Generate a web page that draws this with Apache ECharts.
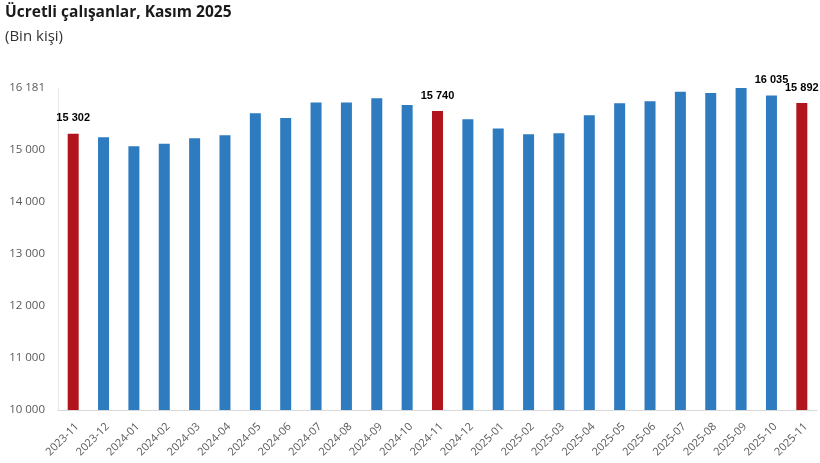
<!DOCTYPE html>
<html><head><meta charset="utf-8">
<script src="https://cdn.jsdelivr.net/npm/echarts@6/dist/echarts.min.js"></script>
<style>html,body{margin:0;padding:0;background:#fff}#c{width:820px;height:463px}</style>
</head><body><div id="c"></div>
<script>
const categories = ['2023-11','2023-12','2024-01','2024-02','2024-03','2024-04','2024-05','2024-06','2024-07','2024-08','2024-09','2024-10','2024-11','2024-12','2025-01','2025-02','2025-03','2025-04','2025-05','2025-06','2025-07','2025-08','2025-09','2025-10','2025-11'];
const values = [15302,15236,15061,15113,15216,15274,15695,15604,15903,15903,15986,15856,15740,15579,15404,15294,15313,15657,15889,15928,16109,16083,16181,16035,15892];
const highlighted = ['2023-11','2024-11','2025-11'];
const labelled = ['2023-11','2024-11','2025-10','2025-11'];
const yTicks = [10000,11000,12000,13000,14000,15000,16181];

const fmt = v => String(v).replace(/\B(?=(\d{3})+(?!\d))/g, ' ');
const chart = echarts.init(document.getElementById('c'));
chart.setOption({
  animation:false,
  title:[
    {text:'Ücretli çalışanlar, Kasım 2025', left:0, top:0, textStyle:{fontFamily:'Open Sans', fontWeight:'bold', fontSize:15.5, color:'#1a1a1a'}},
    {text:'(Bin kişi)', left:0, top:24, textStyle:{fontFamily:'Open Sans', fontWeight:'normal', fontSize:15, color:'#333'}}
  ],
  grid:{left:58, right:3, top:88, bottom:53},
  xAxis:{type:'category', data:categories,
    axisLine:{lineStyle:{color:'#d9d9d9'}}, axisTick:{show:false},
    axisLabel:{rotate:45, interval:0, verticalAlign:'top', fontFamily:'Open Sans', fontSize:11, color:'#595959', margin:11}},
  yAxis:{type:'value', min:10000, max:16181,
    axisLine:{show:true, lineStyle:{color:'#e6e6e6'}}, axisTick:{show:false},
    splitLine:{show:false},
    axisLabel:{customValues:yTicks, formatter:v=>fmt(v), fontFamily:'Open Sans', fontSize:11.5, color:'#595959', margin:13}},
  series:[{type:'bar', barWidth:11,
    data: categories.map((c,i)=>({value:values[i],
      itemStyle:{color: highlighted.includes(c)?'#B0141C':'#2E7BBF'},
      label:{show: labelled.includes(c)}})),
    label:{position:'top', distance:10, formatter:p=>fmt(p.value), fontFamily:'Liberation Sans', fontWeight:'bold', fontSize:11, color:'#000'}
  }]
});
</script></body></html>
